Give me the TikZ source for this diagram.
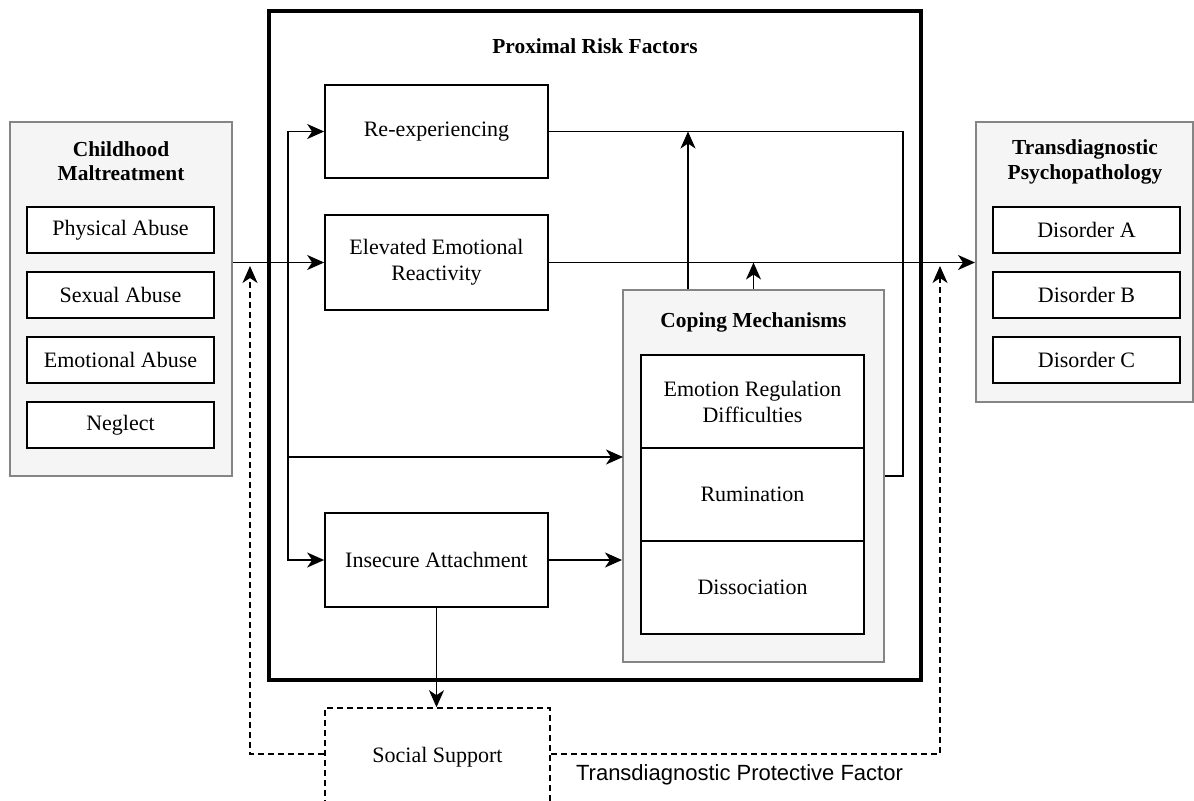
\documentclass[tikz,border=0pt]{standalone}
\usepackage{fontspec}
\setmainfont{Liberation Serif}
\newfontfamily\labsans{Liberation Sans}
\usetikzlibrary{arrows.meta,calc}
\definecolor{grayfill}{HTML}{F5F5F5}
\definecolor{grayline}{HTML}{858585}
\begin{document}
\begin{tikzpicture}[x=0.5pt,y=-0.5pt,
  txt/.style={font=\fontsize{11}{13}\selectfont, align=center},
  ttl/.style={font=\fontsize{10.7}{12.2}\selectfont\bfseries, align=center},
  group/.style={draw=grayline, fill=grayfill, line width=1pt, inner sep=0pt},
  box/.style={draw=black, fill=white, line width=0.85pt, inner sep=0pt, txt},
  conn/.style={line width=0.8pt},
  arr/.style={conn, -{Stealth[length=8.5pt,width=7.5pt,inset=2.5pt]}},
  darr/.style={conn, dash pattern=on 3pt off 2pt, -{Stealth[length=8.5pt,width=7.5pt,inset=2.5pt]}},
  dbox/.style={draw=black, line width=0.8pt, dash pattern=on 3pt off 2pt, inner sep=0pt, txt}]
\useasboundingbox (0,0) rectangle (1194,800);
\clip (0,0) rectangle (1194,800);

% Proximal risk factors frame
\node[draw=black, line width=1.7pt, minimum width=326pt, minimum height=334.5pt, inner sep=0pt] (prox) at (595,345.5) {};
\node[ttl] (proxt) at (595,46) {Proximal Risk Factors};

% Childhood maltreatment
\node[group, minimum width=111pt, minimum height=177pt] (mal) at (121,299) {};
\node[ttl] (malt) at (121,161) {Childhood\\Maltreatment};
\node[box, minimum width=93.5pt, minimum height=23pt] (pa) at (120.5,230) {Physical Abuse};
\node[box, minimum width=93.5pt, minimum height=23pt] (sa) at (120.5,295) {Sexual Abuse};
\node[box, minimum width=93.5pt, minimum height=23pt] (ea) at (120.5,360) {Emotional Abuse};
\node[box, minimum width=93.5pt, minimum height=23pt] (ne) at (120.5,425) {Neglect};

% Transdiagnostic psychopathology
\node[group, minimum width=108.5pt, minimum height=140pt] (trans) at (1084.5,262) {};
\node[ttl] (transt) at (1085,162) {Transdiagnostic\\Psychopathology};
\node[box, minimum width=93.5pt, minimum height=23pt] (da) at (1086.5,230) {Disorder A};
\node[box, minimum width=93.5pt, minimum height=23pt] (db) at (1086.5,295) {Disorder B};
\node[box, minimum width=93.5pt, minimum height=23pt] (dc) at (1086.5,360) {Disorder C};

% Proximal factors
\node[box, minimum width=111.5pt, minimum height=46.5pt] (rex) at (436.5,131.5) {Re-experiencing};
\node[box, minimum width=111.5pt, minimum height=47.5pt] (eer) at (436.5,262.5) {Elevated Emotional\\Reactivity};
\node[box, minimum width=111.5pt, minimum height=47pt] (ia) at (436.5,560) {Insecure Attachment};

% Coping mechanisms
\node[group, minimum width=130.5pt, minimum height=186pt] (cop) at (753.5,476) {};
\node[ttl] (copt) at (753.5,322) {Coping Mechanisms};
\node[box, minimum width=111.5pt, minimum height=46.5pt] (erd) at (752.5,401.5) {Emotion Regulation\\Difficulties};
\node[box, minimum width=111.5pt, minimum height=46.5pt] (rum) at (752.5,494.5) {Rumination};
\node[box, minimum width=111.5pt, minimum height=46.5pt] (dis) at (752.5,587.5) {Dissociation};

% Social support
\node[dbox, minimum width=112.5pt, minimum height=49pt] (ss) at (437.5,757) {Social Support};
\node[anchor=west, font=\labsans\fontsize{11}{13}\selectfont] (tpf) at (569,775) {Transdiagnostic Protective Factor};

% coordinates
\coordinate (jx) at (288,262.5);
\coordinate (cin) at (623,457);
\coordinate (dl) at (250,266);
\coordinate (dr) at (940,266);

% connectors
\draw[arr] (mal.east |- eer.west) -- (eer.west);
\draw[arr] (jx) |- (rex.west);
\draw[arr] (jx) |- (ia.west);
\draw[arr] (jx |- cin) -- (cin);
\draw[arr] (ia.east) -- (ia.east -| cop.west);
\draw[arr] (eer.east) -- (eer.east -| trans.west);
\draw[conn] (cop.east) -- ++(18,0) |- (rex.east);
\draw[arr] ($(cop.north)+(-65.5,0)$) -- ($(cop.north |- rex.east)+(-65.5,0)$);
\draw[arr] (cop.north) -- (cop.north |- eer.east);
\draw[arr] (ia.south) -- (ia.south |- ss.north);
\draw[darr] ($(ss.west)+(0,-3)$) -| (dl);
\draw[darr] ($(ss.east)+(0,-3)$) -| (dr);
\end{tikzpicture}
\end{document}
